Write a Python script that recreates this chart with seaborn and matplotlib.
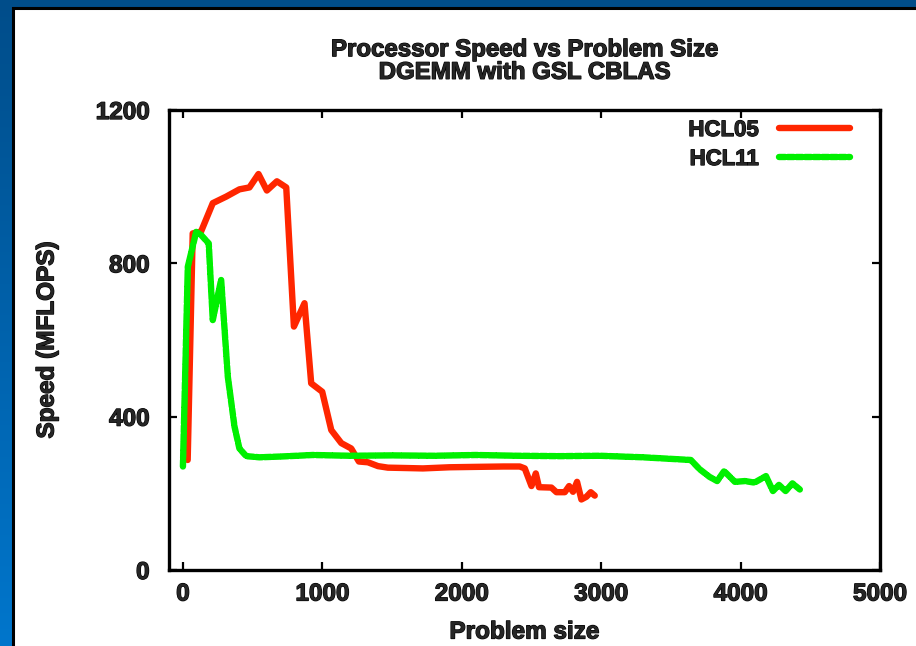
import numpy as np
import pandas as pd
import matplotlib
matplotlib.use("Agg")
import matplotlib.pyplot as plt
import matplotlib.patheffects as pe
import seaborn as sns
from matplotlib.patches import Rectangle
from matplotlib.colors import LinearSegmentedColormap

# ---- data ----
title_lines = ["Processor Speed vs Problem Size", "DGEMM with GSL CBLAS"]
x_label = "Problem size"
y_label = "Speed (MFLOPS)"
x_ticks = [0, 1000, 2000, 3000, 4000, 5000]
y_ticks = [0, 400, 800, 1200]

hcl05_x = [34, 70, 130, 214, 310, 405, 477, 542, 602, 674, 741, 796, 872, 920,
           999, 1064, 1136, 1207, 1262, 1327, 1399, 1470, 1600, 1721, 1913, 2100,
           2300, 2416, 2452, 2500, 2531, 2554, 2643, 2679, 2739, 2770, 2798, 2827,
           2858, 2894, 2925, 2954]
hcl05_y = [287, 878, 883, 957, 974, 993, 998, 1033, 990, 1014, 998, 635, 696, 487,
           465, 365, 331, 317, 283, 281, 271, 267, 266, 265, 268, 269,
           270, 270, 265, 219, 252, 216, 215, 203, 203, 219, 204, 230,
           184, 191, 203, 194]

hcl11_x = [0, 35, 95, 130, 185, 214, 274, 322, 370, 405, 454, 549, 700, 932,
           1200, 1500, 1800, 2100, 2400, 2700, 2991, 3300, 3643, 3706, 3777, 3832,
           3882, 3959, 4031, 4100, 4182, 4232, 4275, 4323, 4372, 4425]
hcl11_y = [270, 791, 882, 874, 852, 652, 757, 504, 374, 317, 297, 294, 296, 300,
           298, 299, 298, 300, 298, 297, 298, 294, 287, 263, 243, 232,
           258, 230, 232, 228, 245, 206, 222, 206, 226, 210]

colors = {"HCL05": "#ff2600", "HCL11": "#00f000"}

df = pd.concat([
    pd.DataFrame({"size": hcl05_x, "speed": hcl05_y, "machine": "HCL05"}),
    pd.DataFrame({"size": hcl11_x, "speed": hcl11_y, "machine": "HCL11"}),
], ignore_index=True)

sns.set_theme(style="white")
plt.rcParams["font.family"] = ["Liberation Sans", "DejaVu Sans"]
plt.rcParams["font.weight"] = "bold"

heavy = [pe.withStroke(linewidth=0.9, foreground="black")]

W, H = 916, 646
fig = plt.figure(figsize=(W / 100, H / 100), dpi=100)

# background: blue gradient frame + white panel
bg = fig.add_axes([0, 0, 1, 1], zorder=-10)
grad = np.linspace(0, 1, 256).reshape(-1, 1)
cmap = LinearSegmentedColormap.from_list("bluegrad", ["#004d8a", "#0076cc"])
bg.imshow(grad, aspect="auto", cmap=cmap, extent=[0, 1, 0, 1], origin="upper")
bg.add_patch(Rectangle((13 / W, -0.01), 1.0, 1 - 8 / H + 0.01,
                       facecolor="white", edgecolor="black", linewidth=2.2,
                       transform=bg.transAxes))
bg.set_xlim(0, 1)
bg.set_ylim(0, 1)
bg.axis("off")

ax = fig.add_axes([169 / W, 1 - 570 / H, (880 - 169) / W, (570 - 110) / H])
ax.set_facecolor("white")

sns.lineplot(data=df[df.machine == "HCL05"], x="size", y="speed", ax=ax,
             sort=False, estimator=None, color=colors["HCL05"], linewidth=4.6,
             solid_capstyle="round", solid_joinstyle="round", label="HCL05")
sns.lineplot(data=df[df.machine == "HCL11"], x="size", y="speed", ax=ax,
             sort=False, estimator=None, color=colors["HCL11"], linewidth=4.6,
             linestyle=(0, (1.0, 0.35)), dash_capstyle="round",
             dash_joinstyle="round", label="HCL11")

ax.set_xlim(-100, 5000)
ax.set_ylim(0, 1200)
ax.set_xticks(x_ticks)
ax.set_yticks(y_ticks)
ax.set_xticklabels([str(t) for t in x_ticks], fontsize=17.5, fontweight="bold")
ax.set_yticklabels([str(t) for t in y_ticks], fontsize=17.5, fontweight="bold")
for t in ax.get_xticklabels() + ax.get_yticklabels():
    t.set_path_effects(heavy)
ax.tick_params(axis="both", direction="in", length=6, width=1.6, color="black",
               top=True, right=True, bottom=True, left=True)
ax.tick_params(axis="x", pad=9)
ax.tick_params(axis="y", pad=14)
for s in ax.spines.values():
    s.set_visible(True)
    s.set_color("black")
    s.set_linewidth(2.4)

ax.set_xlabel(x_label, fontsize=17.5, fontweight="bold")
ax.set_ylabel(y_label, fontsize=17.5, fontweight="bold")
ax.xaxis.label.set_path_effects(heavy)
ax.yaxis.label.set_path_effects(heavy)
ax.xaxis.set_label_coords(0.5, (570 - 632) / 460)
ax.yaxis.set_label_coords((47 - 169) / 711, 0.5)
ax.xaxis.label.set_va("center")
ax.yaxis.label.set_va("center")

ax.text(0.5, (570 - 61) / 460, "\n".join(title_lines), transform=ax.transAxes,
        ha="center", va="center", fontsize=17.3, fontweight="bold",
        linespacing=0.98, path_effects=heavy)

leg = ax.legend(loc="upper right", bbox_to_anchor=((850 - 169) / 711, (570 - 120) / 460),
                frameon=False, markerfirst=False, fontsize=16, handlelength=3.2,
                handletextpad=0.9, labelspacing=0.36, borderpad=0, borderaxespad=0)
for t in leg.get_texts():
    t.set_fontweight("bold")
    t.set_path_effects(heavy)

fig.savefig("out.png", dpi=100)
